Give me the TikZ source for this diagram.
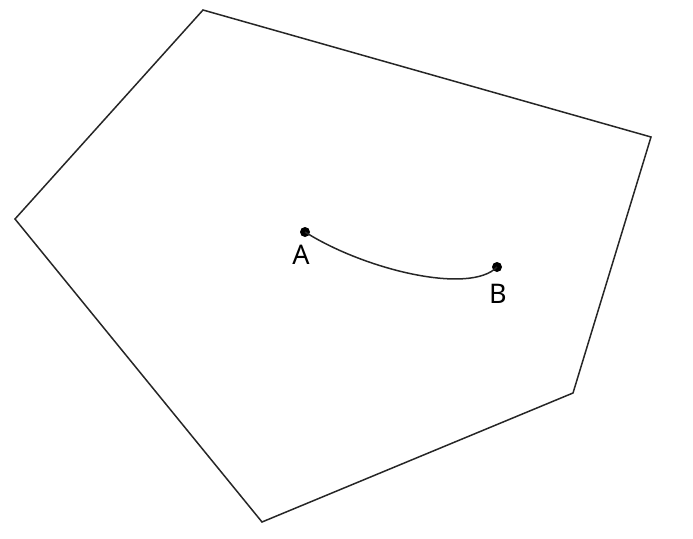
\documentclass[tikz,border=0pt]{standalone}
\usepackage{fontspec}
\setmainfont{Noto Sans}
\begin{document}
\begin{tikzpicture}[x=1pt,y=-1pt,
  edge/.style={draw=black!85,line width=1.5pt,line join=miter},
  pt/.style={circle,fill=black,inner sep=0pt,minimum size=10pt},
  lbl/.style={font=\fontsize{27}{32}\selectfont,inner sep=0pt}]
\useasboundingbox (0,0) rectangle (693,538);
\coordinate (p1) at (203,10);
\coordinate (p2) at (651,137);
\coordinate (p3) at (573,393);
\coordinate (p4) at (262,522);
\coordinate (p5) at (15,219);
\draw[edge] (p1) -- (p2) -- (p3) -- (p4) -- (p5) -- cycle;
\node[pt] (A) at (305,232) {};
\node[pt] (B) at (497,267) {};
\draw[edge] (A.center) .. controls (365,270) and (470,295) .. (B.center);
\node[lbl] (la) at (301,255) {A};
\node[lbl] (lb) at (498,294) {B};
\end{tikzpicture}
\end{document}
